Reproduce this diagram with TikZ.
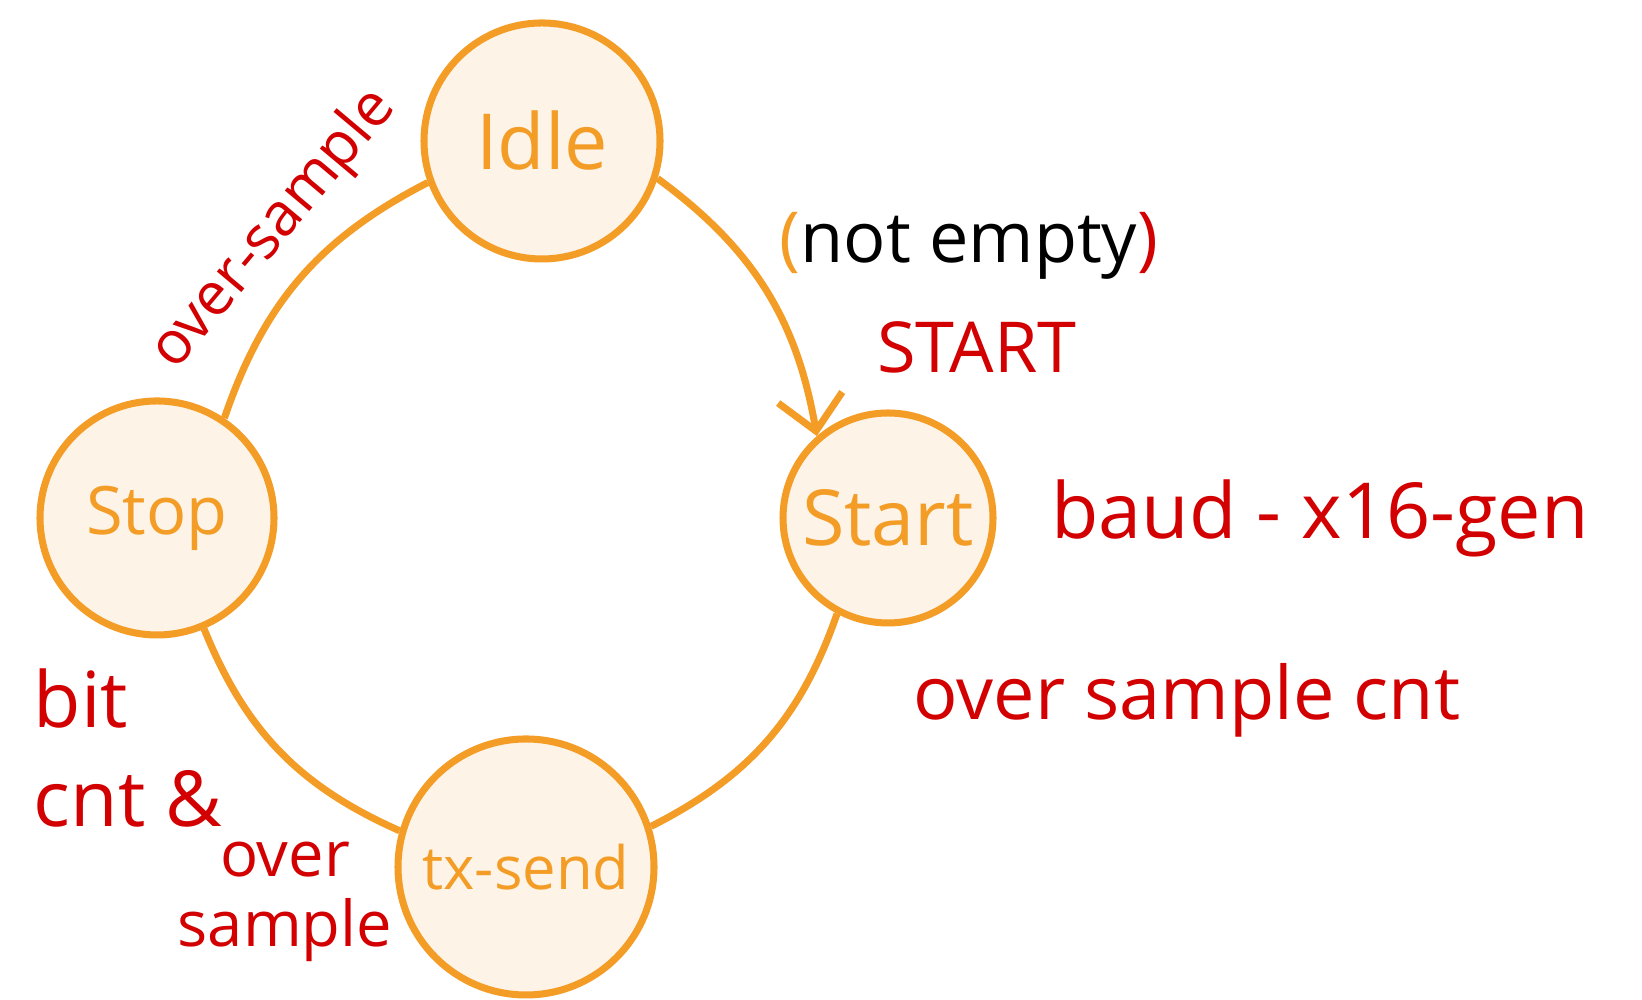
\documentclass[tikz,border=0pt]{standalone}
\usepackage{fontspec}
\setmainfont{Open Sans}
\usepackage{tikz}
\usetikzlibrary{arrows.meta}
\definecolor{stOrange}{RGB}{243,156,38}
\definecolor{stFill}{RGB}{253,243,231}
\definecolor{lblRed}{RGB}{210,0,0}
\tikzset{
  state/.style={circle, draw=stOrange, fill=stFill, line width=2pt, text=stOrange,
                inner sep=0pt, font=\fontsize{22}{24}\selectfont},
  trans/.style={stOrange, line width=2pt},
  transarr/.style={trans, -{Straight Barb[length=3.4mm, width=6.5mm, line width=2pt]}},
  lbl/.style={text=lblRed, font=\fontsize{21}{23}\selectfont},
  cond/.style={text=black, font=\fontsize{20}{22}\selectfont},
}
\begin{document}
\begin{tikzpicture}
  \useasboundingbox (0,0) rectangle (16.42,10);

  % --- states ---
  \node[state, minimum size=2.36cm] (idle)  at (5.42,8.59) {Idle};
  \node[state, minimum size=2.10cm] (start) at (8.88,4.82) {Start};
  \node[state, minimum size=2.34cm, font=\fontsize{19}{21}\selectfont] (stop) at (1.57,4.82) {Stop};
  \node[state, minimum size=2.56cm, font=\fontsize{17}{19}\selectfont] (send) at (5.26,1.33) {tx-send};

  % --- transitions (clockwise) ---
  \draw[transarr] (idle.-18)  to[bend left=22] (start.131);
  \draw[trans]    (start.242) to[bend left=22] (send.18);
  \draw[trans]    (send.164)  to[bend left=22] (stop.293);
  \draw[trans]    (stop.56)   to[bend left=22] (idle.200);

  % --- conditions / actions ---
  \node[lbl, rotate=50, font=\fontsize{17}{19}\selectfont] (ovsmp) at (2.74,7.70) {over-sample};
  \node[cond] (notempty) at (9.69,7.54)
       {{\color{stOrange}(}not empty{\color{lblRed})}};
  \node[lbl, font=\fontsize{20}{22}\selectfont] (startsig) at (9.77,6.53) {START};
  \node[lbl, font=\fontsize{22}{24}\selectfont] (baudgen) at (13.2,4.82) {baud - x16-gen};
  \node[lbl] (ovcnt) at (11.87,3.0) {over sample cnt};
  \node[lbl, align=left, font=\fontsize{22}{28}\selectfont] (bitcnt) at (1.28,2.52) {bit\\cnt \&};
  \node[lbl, align=center, font=\fontsize{18}{20}\selectfont] (ovsmp2) at (2.85,0.98) {over\\sample};
\end{tikzpicture}
\end{document}
